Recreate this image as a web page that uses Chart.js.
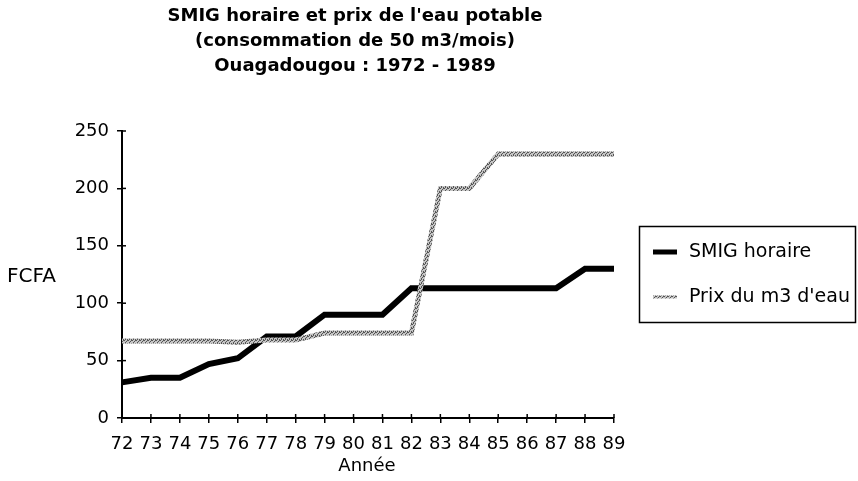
<!DOCTYPE html>
<html>
<head>
<meta charset="utf-8">
<script src="https://cdn.jsdelivr.net/npm/chart.js@4"></script>
<style>
  html, body { margin: 0; padding: 0; background: #fff; }
  #wrap { width: 858px; height: 481px; position: relative; }
</style>
</head>
<body>
<div id="wrap"><canvas id="c" width="858" height="481"></canvas></div>
<script>
const titleLines = ["SMIG horaire et prix de l'eau potable", "(consommation de 50 m3/mois)", "Ouagadougou : 1972 - 1989"];
const years = ['72','73','74','75','76','77','78','79','80','81','82','83','84','85','86','87','88','89'];
const smigHoraire = [31, 35, 35, 47, 52, 71, 71, 90, 90, 90, 113, 113, 113, 113, 113, 113, 130, 130];
const prixEau = [67, 67, 67, 67, 66, 68, 68, 74, 74, 74, 74, 200, 200, 230, 230, 230, 230, 230];
const yTitle = 'FCFA';
const xTitle = 'Année';
const seriesNames = ['SMIG horaire', "Prix du m3 d'eau"];

const FONT = "'DejaVu Sans', sans-serif";

// stippled grey pattern for the water-price line
function makePattern() {
  const pc = document.createElement('canvas');
  pc.width = 4; pc.height = 4;
  const p = pc.getContext('2d');
  p.fillStyle = '#c4c4c4';
  p.fillRect(0, 0, 4, 4);
  p.fillStyle = '#555';
  [[0,0],[2,1],[1,2],[3,3],[3,0],[1,3]].forEach(([x,y]) => p.fillRect(x, y, 1, 1));
  return document.getElementById('c').getContext('2d').createPattern(pc, 'repeat');
}
const stipple = makePattern();

const decor = {
  id: 'decor',
  afterDraw(chart) {
    const ctx = chart.ctx;
    const xs = chart.scales.x, ys = chart.scales.y;
    ctx.save();
    // inward tick marks (ticks cross the axes)
    ctx.strokeStyle = '#000';
    ctx.lineWidth = 1.5;
    ys.ticks.forEach(t => {
      const y = ys.getPixelForValue(t.value);
      ctx.beginPath(); ctx.moveTo(xs.left, y); ctx.lineTo(xs.left + 4, y); ctx.stroke();
    });
    years.forEach((lab, i) => {
      const x = xs.getPixelForValue(i);
      ctx.beginPath(); ctx.moveTo(x, ys.bottom); ctx.lineTo(x, ys.bottom - 4); ctx.stroke();
    });
    // title
    ctx.fillStyle = '#000';
    ctx.textAlign = 'center';
    ctx.textBaseline = 'middle';
    ctx.font = "bold 18px " + FONT;
    titleLines.forEach((l, i) => ctx.fillText(l, 355, 16 + i * 25));
    // axis titles
    ctx.font = "20px " + FONT;
    ctx.textAlign = 'left';
    ctx.fillText(yTitle, 7, 277);
    ctx.font = "18px " + FONT;
    ctx.textAlign = 'center';
    ctx.fillText(xTitle, 367, 466);
    // legend
    ctx.lineWidth = 1.5;
    ctx.strokeStyle = '#000';
    ctx.strokeRect(639.5, 226.5, 216, 96);
    const ds = chart.data.datasets;
    const rows = [252, 297];
    ds.forEach((d, i) => {
      const y = rows[i];
      ctx.beginPath();
      ctx.strokeStyle = d.borderColor;
      ctx.lineWidth = i === 0 ? 5 : 3;
      ctx.moveTo(653, y); ctx.lineTo(677, y); ctx.stroke();
      ctx.fillStyle = '#000';
      ctx.textAlign = 'left';
      ctx.font = "19px " + FONT;
      ctx.fillText(d.label, 689, y);
    });
    ctx.restore();
  }
};

new Chart(document.getElementById('c'), {
  type: 'line',
  data: {
    labels: years,
    datasets: [
      { label: seriesNames[0], data: smigHoraire, borderColor: '#000', backgroundColor: '#000',
        borderWidth: 6, pointRadius: 0, tension: 0, order: 1 },
      { label: seriesNames[1], data: prixEau, borderColor: stipple, backgroundColor: stipple,
        borderWidth: 5, pointRadius: 0, tension: 0, order: 0 }
    ]
  },
  options: {
    responsive: false,
    animation: false,
    layout: { padding: { top: 131, right: 244, left: 0, bottom: 0 } },
    plugins: { legend: { display: false }, title: { display: false }, tooltip: { enabled: false } },
    scales: {
      x: {
        type: 'category',
        offset: false,
        grid: { drawOnChartArea: false, drawTicks: true, tickLength: 5, color: '#000', lineWidth: 1.5 },
        border: { display: true, color: '#000', width: 2 },
        ticks: { color: '#000', font: { family: FONT, size: 18 }, padding: 11, maxRotation: 0, autoSkip: false },
        afterFit: s => { s.height = 63; }
      },
      y: {
        min: 0, max: 250,
        grid: { drawOnChartArea: false, drawTicks: true, tickLength: 5, color: '#000', lineWidth: 1.5 },
        border: { display: true, color: '#000', width: 2 },
        ticks: { stepSize: 50, color: '#000', font: { family: FONT, size: 18 }, padding: 8 },
        afterFit: s => { s.width = 122; }
      }
    }
  },
  plugins: [decor]
});
</script>
</body>
</html>
